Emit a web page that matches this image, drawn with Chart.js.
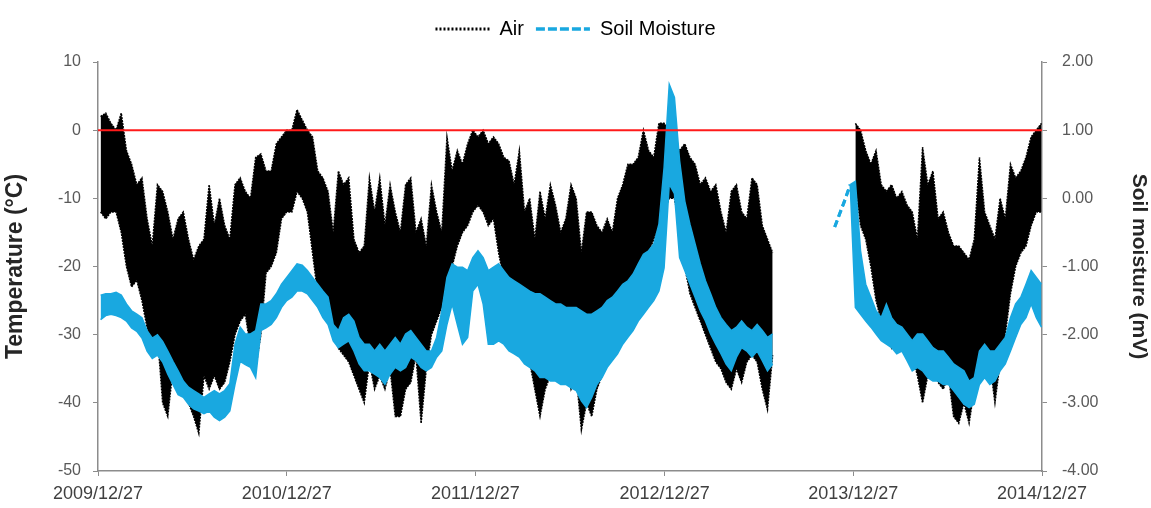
<!DOCTYPE html>
<html>
<head>
<meta charset="utf-8">
<script src="https://cdn.jsdelivr.net/npm/chart.js@4"></script>
<style>
  html, body { margin: 0; padding: 0; background: #fff; }
  #wrap { width: 1151px; height: 508px; }
</style>
</head>
<body>
<div id="wrap"><canvas id="myChart"></canvas></div>
<script>
// x axis: days since 2009/12/27
const tickDays = [0, 365, 730, 1096, 1461, 1826];
const tickLabels = ['2009/12/27', '2010/12/27', '2011/12/27', '2012/12/27', '2013/12/27', '2014/12/27'];
const binDays = 10;

// air temperature (°C), highest / lowest reading in each 10-day bin
const airHigh = [
  2, 2.5, 1, 0, 2.5, -3, -5, -8, -7, -13,
  -17, -8, -9, -12, -16, -13, -12, -16, -19, -17,
  -16, -8, -14, -10, -14, -16, -8, -7, -9, -10,
  -4, -3.5, -6, -6, -2, -1, 0, 0, 3, 1.5,
  0, -1, -6, -7, -9, -15, -6, -8, -7, -16,
  -18, -17, -7, -12, -7, -14, -8, -12, -15, -8,
  -7, -15, -13, -17, -8, -12, -15, -1, -6, -3,
  -5, -2, 0, -1, 0, -2, -1, -2, -4, -4.5,
  -8, -3, -12, -10, -16, -9, -13, -8, -11, -15,
  -13, -8, -10, -18, -12, -12, -14, -15, -13, -15,
  -10, -8, -5, -5, -4, 0, -3, -4, 1, 1,
  0, -2, -3, -2, -4, -5, -8, -7, -9, -8,
  -12, -15, -9, -8, -12, -13, -7, -8, -14, -16,
  -18, null, null, null, null, null, null, null, null, null,
  null, null, null, null, null, null, 1, 0, -3, -5,
  -3, -8, -9, -8, -10, -9, -11, -12, -16, -2.5,
  -8, -6, -13, -12, -15, -17, -17, -18, -19, -16,
  -4, -12, -14, -16, -10, -13, -5, -7, -6, -4,
  -1, 0, 1
];
const airLow = [
  -12, -13, -12, -12, -15, -20, -23, -22, -25, -29,
  -32, -30, -40, -42, -35, -38, -38, -40, -42, -44.5,
  -36, -38, -36, -38, -37, -34, -30, -28, -27, -32,
  -35, -30, -21, -20, -18, -13, -12, -12, -9, -10,
  -12, -18, -24, -27, -28, -30, -32, -33, -34, -36,
  -38, -40, -34, -38, -36, -38, -35, -42, -42, -38,
  -37, -33, -43, -35, -30, -28, -26, -22, -20, -17,
  -15, -14, -12, -11, -12, -14, -13, -18, -22, -25,
  -28, -30, -33, -34, -38, -42, -38, -36, -34, -36,
  -34, -38, -36, -44, -40, -42, -38, -36, -34, -30,
  -30, -28, -27, -25, -22, -20, -18, -16, -14, -12,
  -10, -10, -14, -20, -24, -26, -28, -30, -32, -34,
  -35, -37, -38, -35, -37, -34, -33, -34, -38, -41,
  -33, null, null, null, null, null, null, null, null, null,
  null, null, null, null, null, null, -8, -14, -16, -20,
  -25, -28, -30, -32, -31, -30, -32, -33, -36, -40,
  -36, -34, -37, -38, -36, -42, -43, -40, -43, -38,
  -34, -32, -34, -40, -34, -30, -24, -20, -18, -17,
  -14, -12, -12
];

// soil moisture (mV), top / bottom of the trace in each 10-day bin
const soilTop = [
  -1.42, -1.40, -1.40, -1.38, -1.42, -1.55, -1.65, -1.70, -1.75, -1.94,
  -2.05, -2.00, -2.10, -2.24, -2.39, -2.53, -2.68, -2.77, -2.82, -2.87,
  -2.92, -2.87, -2.82, -2.87, -2.82, -2.72, -2.14, -1.89, -1.99, -1.99,
  -1.94, -1.55, -1.55, -1.50, -1.40, -1.26, -1.16, -1.06, -0.96, -0.98,
  -1.06, -1.16, -1.26, -1.36, -1.45, -1.85, -1.94, -1.75, -1.70, -1.80,
  -2.04, -2.14, -2.14, -2.24, -2.14, -2.24, -2.14, -2.04, -2.14, -1.99,
  -1.94, -2.04, -2.14, -2.24, -2.24, -2.04, -1.65, -1.16, -0.96, -1.01,
  -1.01, -1.06, -0.87, -0.77, -0.87, -1.06, -1.01, -0.96, -1.06, -1.16,
  -1.21, -1.26, -1.31, -1.36, -1.40, -1.40, -1.45, -1.50, -1.55, -1.55,
  -1.60, -1.60, -1.60, -1.65, -1.70, -1.70, -1.65, -1.60, -1.50, -1.45,
  -1.36, -1.26, -1.21, -1.11, -0.96, -0.82, -0.77, -0.67, -0.38, 0.45,
  1.67, 1.48, 0.55, -0.04, -0.38, -0.67, -0.96, -1.21, -1.40, -1.60,
  -1.75, -1.85, -1.94, -1.89, -1.80, -1.89, -1.94, -1.85, -1.94, -2.04,
  -1.99, null, null, null, null, null, null, null, null, null,
  null, null, -0.42, -0.22, -0.02, 0.20, 0.25, -0.77, -1.26, -1.45,
  -1.65, -1.75, -1.55, -1.75, -1.85, -1.89, -1.99, -2.09, -1.99, -1.99,
  -2.09, -2.19, -2.24, -2.24, -2.33, -2.43, -2.48, -2.53, -2.68, -2.63,
  -2.24, -2.14, -2.24, -2.24, -2.14, -2.04, -1.75, -1.55, -1.45, -1.26,
  -1.06, -1.16, -1.26
];
const soilBottom = [
  -1.78, -1.72, -1.70, -1.72, -1.75, -1.80, -1.90, -1.95, -2.05, -2.24,
  -2.35, -2.30, -2.40, -2.58, -2.73, -2.88, -2.92, -3.02, -3.09, -3.12,
  -3.16, -3.12, -3.21, -3.26, -3.21, -3.12, -2.73, -2.39, -2.44, -2.48,
  -2.63, -1.94, -1.90, -1.85, -1.75, -1.60, -1.50, -1.45, -1.36, -1.36,
  -1.40, -1.50, -1.60, -1.75, -1.85, -2.09, -2.19, -2.14, -2.09, -2.24,
  -2.43, -2.53, -2.53, -2.58, -2.63, -2.73, -2.58, -2.48, -2.53, -2.48,
  -2.33, -2.38, -2.48, -2.53, -2.48, -2.33, -2.24, -1.85, -1.55, -1.85,
  -2.14, -2.04, -1.36, -1.26, -1.55, -2.14, -2.14, -2.09, -2.14, -2.24,
  -2.28, -2.33, -2.43, -2.48, -2.53, -2.63, -2.63, -2.68, -2.68, -2.73,
  -2.73, -2.78, -2.82, -2.97, -3.07, -2.92, -2.73, -2.63, -2.48, -2.38,
  -2.28, -2.14, -2.04, -1.94, -1.80, -1.70, -1.60, -1.50, -1.36, -1.02,
  0.21, 0.07, -0.87, -1.06, -1.26, -1.45, -1.65, -1.80, -1.99, -2.14,
  -2.28, -2.43, -2.53, -2.33, -2.19, -2.24, -2.33, -2.24, -2.38, -2.53,
  -2.43, null, null, null, null, null, null, null, null, null,
  null, null, -0.42, -0.22, -0.02, 0.20, -1.60, -1.70, -1.80, -1.89,
  -1.99, -2.09, -2.14, -2.19, -2.28, -2.24, -2.38, -2.53, -2.48, -2.53,
  -2.63, -2.68, -2.68, -2.73, -2.73, -2.82, -2.92, -3.02, -3.07, -3.02,
  -2.73, -2.63, -2.73, -2.68, -2.53, -2.43, -2.24, -2.04, -1.85, -1.75,
  -1.55, -1.75, -1.89
];

const freezeLine = [0, 0];

function toPoints(vals) {
  return vals.map((v, i) => ({ x: i * binDays + binDays / 2, y: v }));
}

const textColor = '#595959';
const axisColor = '#8c8c8c';
const fontFamily = "'Liberation Sans', Arial, sans-serif";
const soilColor = '#19a8e0';
const gapDash = c => (c.p0.parsed.x >= 1420 && c.p1.parsed.x <= 1456) ? [7, 4] : undefined;

// extra room under the legend
const legendGap = {
  id: 'legendGap',
  afterInit(chart) {
    const fit = chart.legend.fit;
    chart.legend.fit = function () {
      fit.call(this);
      this.height += 13;
    };
  }
};

const ctx = document.getElementById('myChart');
new Chart(ctx, {
  type: 'line',
  data: {
    datasets: [
      {
        label: 'Freeze',
        data: [{ x: tickDays[0], y: freezeLine[0] }, { x: tickDays[5], y: freezeLine[1] }],
        borderColor: '#ff1a1a',
        borderWidth: 2,
        yAxisID: 'y',
        order: 0
      },
      {
        label: 'Soil Moisture',
        data: toPoints(soilTop),
        borderColor: soilColor,
        backgroundColor: soilColor,
        borderWidth: 1.5,
        fill: '+1',
        yAxisID: 'y2',
        order: 1,
        segment: { borderDash: gapDash, borderWidth: c => gapDash(c) ? 3 : undefined }
      },
      {
        label: 'Soil bottom',
        data: toPoints(soilBottom),
        borderColor: soilColor,
        borderWidth: 1.5,
        yAxisID: 'y2',
        order: 2,
        segment: { borderDash: gapDash, borderWidth: c => gapDash(c) ? 3 : undefined }
      },
      {
        label: 'Air',
        data: toPoints(airHigh),
        borderColor: '#000',
        backgroundColor: '#000',
        borderWidth: 1.5,
        borderDash: [2, 1],
        fill: '+1',
        yAxisID: 'y',
        order: 3
      },
      {
        label: 'Air low',
        data: toPoints(airLow),
        borderColor: '#000',
        borderWidth: 1.5,
        borderDash: [2, 1],
        yAxisID: 'y',
        order: 4
      }
    ]
  },
  options: {
    responsive: true,
    maintainAspectRatio: false,
    animation: false,
    elements: { point: { radius: 0 }, line: { tension: 0 } },
    layout: { padding: { top: 7, left: 0, right: 0, bottom: 0 } },
    plugins: {
      tooltip: { enabled: false },
      legend: {
        position: 'top',
        labels: {
          color: '#262626',
          font: { family: fontFamily, size: 20 },
          usePointStyle: true,
          pointStyleWidth: 54,
          padding: 12,
          generateLabels: () => [
            { text: 'Air', pointStyle: 'line', fillStyle: '#000', strokeStyle: '#000', lineWidth: 3, lineDash: [2, 2], datasetIndex: 3 },
            { text: 'Soil Moisture', pointStyle: 'line', fillStyle: soilColor, strokeStyle: soilColor, lineWidth: 3.5, lineDash: [9, 3], datasetIndex: 1 }
          ]
        }
      }
    },
    scales: {
      x: {
        type: 'linear',
        min: tickDays[0],
        max: tickDays[tickDays.length - 1],
        afterBuildTicks: s => { s.ticks = tickDays.map(v => ({ value: v })); },
        afterFit: s => { s.height = 37; },
        ticks: {
          autoSkip: false,
          maxRotation: 0,
          padding: 7,
          color: '#404040',
          font: { family: fontFamily, size: 18 },
          callback: (v, i) => tickLabels[i]
        },
        grid: { drawOnChartArea: false, tickLength: 5, color: axisColor },
        border: { color: axisColor, width: 1.5 }
      },
      y: {
        position: 'left',
        min: -50,
        max: 10,
        afterFit: s => { s.width = 98; },
        ticks: { stepSize: 10, padding: 12, color: textColor, font: { family: fontFamily, size: 16 } },
        grid: { drawOnChartArea: false, tickLength: 5, color: axisColor },
        border: { color: axisColor, width: 1.5 },
        title: {
          display: true,
          text: 'Temperature (°C)',
          color: '#262626',
          font: { family: fontFamily, size: 23, weight: 'bold' },
          padding: { top: 2, bottom: 0 }
        }
      },
      y2: {
        position: 'right',
        min: -4,
        max: 2,
        afterFit: s => { s.width = 109; },
        ticks: {
          stepSize: 1,
          padding: 15,
          color: textColor,
          font: { family: fontFamily, size: 16 },
          callback: v => Number(v).toFixed(2)
        },
        grid: { drawOnChartArea: false, tickLength: 5, color: axisColor },
        border: { color: axisColor, width: 1.5 },
        title: {
          display: true,
          text: 'Soil moisture (mV)',
          color: '#262626',
          font: { family: fontFamily, size: 21, weight: 'bold' },
          padding: { top: 0, bottom: 3 }
        }
      }
    }
  },
  plugins: [legendGap]
});
</script>
</body>
</html>
